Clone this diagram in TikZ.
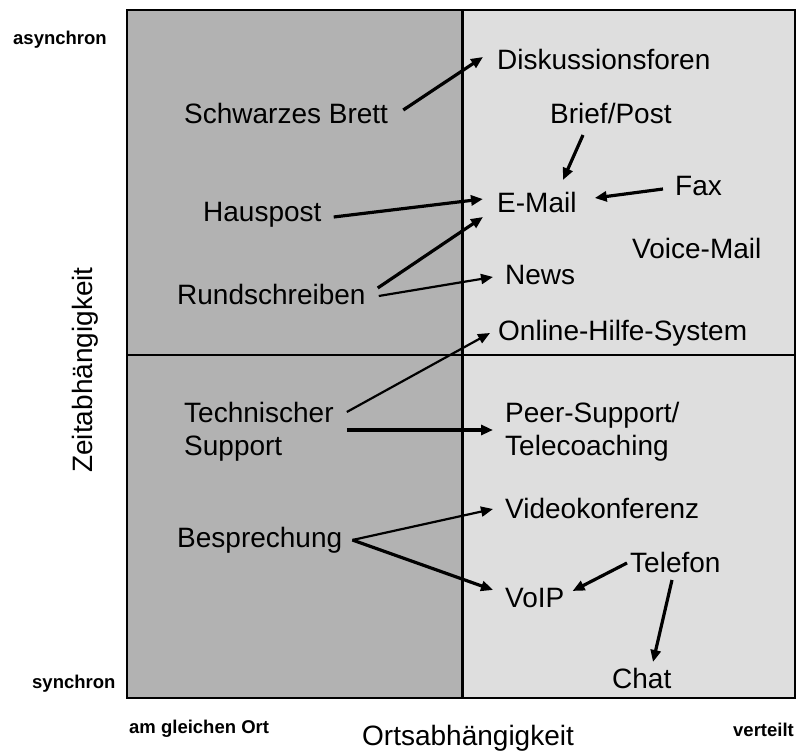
\documentclass[tikz,border=0pt]{standalone}
\usepackage{fontspec}
\setmainfont{Liberation Sans}
\usetikzlibrary{arrows.meta,calc}
\begin{document}
\begin{tikzpicture}[x=1pt,y=1pt,line cap=butt,line join=miter,>={Triangle[length=12pt,width=10pt]}]
	\tikzset{txt/.style={anchor=base west,inner sep=0pt,font=\fontsize{28}{33}\selectfont},
		ecke/.style={anchor=base west,inner sep=0pt,font=\fontsize{18.5}{22}\selectfont\bfseries},
		pfeil/.style={->,line width=3.2pt},
		duenn/.style={->,line width=2.2pt}}
	\useasboundingbox (0,0) rectangle (797,753);
	%--------- Felder
	\fill[black!30] (127,55) rectangle (462,743);
	\fill[black!13] (462,55) rectangle (795,743);
	\draw[line width=1.2pt] (127,398)--(795,398);
	\draw[line width=3pt] (462,55)--(462,743);
	\draw[line width=2pt] (127,55) rectangle (795,743);
	%--------- Achsen
	\node[ecke] (asyn) at (13,708) {asynchron};
	\node[ecke] (syn) at (32,65) {synchron};
	\node[ecke] (ort) at (129,20) {am gleichen Ort};
	\node[ecke] (vert) at (733,17) {verteilt};
	\node[txt] (ortsab) at (362,8) {Ortsabhängigkeit};
	\node[txt,rotate=90] (zeitab) at (92,280) {Zeitabhängigkeit};
	%--------- gleicher Ort
	\node[txt] (brett) at (184,629) {Schwarzes Brett};
	\node[txt] (haus) at (203,531) {Hauspost};
	\node[txt] (rund) at (177,448) {Rundschreiben};
	\node[txt,align=left] (tech) at (184,298) {Technischer\\Support};
	\node[txt] (bespr) at (177,206) {Besprechung};
	%--------- verteilt
	\node[txt] (forum) at (497,683) {Diskussionsforen};
	\node[txt] (brief) at (550,629) {Brief/Post};
	\node[txt] (fax) at (675,557) {Fax};
	\node[txt] (mail) at (497,540) {E-Mail};
	\node[txt] (voice) at (632,494) {Voice-Mail};
	\node[txt] (news) at (505,468) {News};
	\node[txt] (hilfe) at (498,412) {Online-Hilfe-System};
	\node[txt,align=left] (peer) at (505,298) {Peer-Support/\\Telecoaching};
	\node[txt] (video) at (505,235) {Videokonferenz};
	\node[txt] (tel) at (630,181) {Telefon};
	\node[txt] (voip) at (505,146) {VoIP};
	\node[txt] (chat) at (612,65) {Chat};
	%--------- Pfeile
	\draw[pfeil] ($(brett.base east)+(15,14)$)--($(forum.base west)+(-14,13)$);
	\draw[pfeil] ($(brief.base west)+(33,-11)$)--($(mail.base west)+(66,33)$);
	\draw[pfeil] ($(fax.base west)+(-12,7)$)--($(mail.base east)+(18,15)$);
	\draw[pfeil] ($(haus.base east)+(12,5)$)--($(mail.base west)+(-14,14)$);
	\draw[pfeil] ($(rund.base east)+(12,17)$)--($(mail.base west)+(-14,-4)$);
	\draw[duenn] ($(rund.base east)+(13,9)$)--($(news.base west)+(-12,8)$);
	\draw[duenn] ($(tech.base east)+(13,43)$)--($(hilfe.base west)+(-8,8)$);
	\draw[pfeil] ($(tech.base east)+(13,25)$)--($(peer.base west)+(-12,25)$);
	\draw[duenn] ($(bespr.base east)+(10,7)$)--($(video.base west)+(-12,9)$);
	\draw[pfeil] ($(bespr.base east)+(10,7)$)--($(voip.base west)+(-12,17)$);
	\draw[pfeil] ($(tel.base west)+(-3,9)$)--($(voip.base east)+(8,16)$);
	\draw[pfeil] ($(tel.base west)+(42,-8)$)--($(chat.base west)+(41,26)$);
\end{tikzpicture}
\end{document}
